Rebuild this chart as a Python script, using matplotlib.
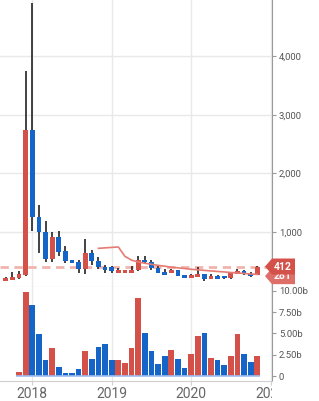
import numpy as np
import pandas as pd
import matplotlib
matplotlib.use("Agg")
import matplotlib.pyplot as plt
from matplotlib.patches import Polygon
from matplotlib.transforms import Bbox, TransformedBbox, IdentityTransform
from matplotlib.ticker import FuncFormatter

plt.rcParams['font.family'] = ['Roboto', 'DejaVu Sans']

# monthly candles, Sep 2017 - Nov 2020
months = pd.date_range('2017-09-01', periods=39, freq='MS')
opens = [170, 188, 217, 267,
         2740, 1255, 1006, 545, 915, 670, 515, 489, 375, 643, 511, 409,
         400, 307, 310, 310, 350, 523, 489, 387, 319, 302, 353, 267,
         222, 239, 284, 205, 250, 245, 210, 290, 336, 290, 273]
highs = [225, 324, 341, 3744,
         4900, 1461, 1188, 1006, 1017, 762, 530, 523, 881, 694, 569, 430,
         415, 387, 360, 415, 591, 591, 523, 421, 370, 365, 360, 275,
         290, 398, 290, 284, 262, 255, 310, 375, 350, 318, 420]
lows = [160, 180, 205, 250,
        1017, 637, 494, 494, 597, 467, 465, 297, 290, 443, 370, 307,
        307, 300, 300, 300, 341, 467, 353, 300, 262, 295, 245, 210,
        210, 230, 160, 199, 199, 199, 199, 285, 270, 240, 265]
closes = [215, 233, 285, 2740,
          1261, 1006, 545, 915, 665, 511, 472, 375, 643, 511, 404, 358,
          341, 347, 347, 347, 518, 484, 382, 307, 273, 353, 256, 216,
          273, 284, 199, 250, 205, 210, 302, 336, 279, 245, 412]
# volume in billions (none shown for Sep/Oct 2017)
volumes = [0, 0, 0.45, 9.9,
           8.35, 4.9, 1.9, 3.3, 1.07, 0.36, 0.36, 0.83, 2.98, 2.0, 3.45, 3.8,
           1.9, 1.9, 1.55, 3.3, 9.2, 5.0, 2.98, 1.43, 2.4, 3.1, 2.0, 0.95,
           2.6, 4.76, 5.0, 2.1, 1.9, 1.3, 2.4, 4.9, 2.6, 1.67, 2.4]
# moving average, Nov 2018 - Nov 2020
ma_values = [722, 730, 738, 745, 585, 520, 490, 468, 450, 432, 418, 400, 390,
             378, 365, 356, 346, 337, 328, 320, 310, 302, 294, 285, 278]
ma_last_label = 281
years = [2018, 2019, 2020, 2021]

RED = '#d4514a'
BLUE = '#1565c8'
GRID = '#e9e9e9'
AXC = '#9a9a9a'
TXT = '#555555'

m = np.array([(d.year - 2018) * 12 + d.month - 1 for d in months])
o = np.array(opens, float)
c = np.array(closes, float)
h = np.array(highs, float)
lo = np.array(lows, float)
v = np.array(volumes, float)
colors = np.array([RED if cc >= oo else BLUE for oo, cc in zip(o, c)])

W, H = 319, 401
fig = plt.figure(figsize=(W / 100, H / 100), dpi=100)
ax = fig.add_axes([0, 114 / H, 272 / W, 287 / H])
axv = fig.add_axes([0, 20 / H, 272 / W, 94 / H])

xlim = (-4.88, 36.22)
year_pos = [(y - 2018) * 12 for y in years]

for a in (ax, axv):
    a.set_xlim(*xlim)
    a.set_xticks(year_pos)
    a.yaxis.tick_right()
    for s in ('left', 'top'):
        a.spines[s].set_visible(False)
    a.spines['right'].set_color(AXC)
    a.spines['bottom'].set_color('#cfcfcf')
    a.tick_params(axis='y', length=3, color=AXC, labelcolor=TXT, labelsize=6.8, pad=2)
    a.tick_params(axis='x', length=3, color='#cfcfcf', labelcolor='#666666', labelsize=10, pad=1)
    a.grid(axis='x', color=GRID, lw=1)
    a.set_axisbelow(True)

# price panel
ax.set_ylim(63, 4955)
ax.set_yticks([1000, 2000, 3000, 4000])
ax.yaxis.set_major_formatter(FuncFormatter(lambda x, p: f'{int(x):,}'))
ax.grid(axis='y', color=GRID, lw=1)
ax.tick_params(axis='x', labelbottom=False, length=0)
ax.vlines(m, lo, h, color='#222222', lw=1.2, zorder=2)
ax.bar(m, np.maximum(np.abs(c - o), 8), bottom=np.minimum(o, c), width=0.72,
       color=colors, zorder=3)
ax.plot(m[-len(ma_values):], ma_values, color='#e57b73', lw=1.2, zorder=4)
ax.axhline(c[-1], color='#f0b4ae', lw=2, ls=(0, (3, 2)), zorder=1)

# volume panel
axv.set_ylim(-0.588, 10.47)
axv.set_yticks([0, 2.5, 5, 7.5, 10])
axv.yaxis.set_major_formatter(FuncFormatter(lambda x, p: '0' if x == 0 else f'{x:.2f}b'))
vm = v > 0
axv.bar(m[vm], v[vm], width=0.86, color=colors[vm], zorder=3)
axv.hlines(0, m[vm][0] - 0.43, m[-1] + 0.43, color='#9dbdf0', lw=1.2, zorder=4)
axv.set_xticklabels([str(y) for y in years])
clip = TransformedBbox(Bbox([[0, -1], [1, 1]]), axv.transAxes)
for lbl in axv.get_xticklabels():
    lbl.set_clip_on(True)
    lbl.set_clip_box(clip)

# value tags on the right axis
def tag(value, text, fc, z):
    x0, y0 = ax.transData.transform((xlim[1], value))
    pts = [(x0 - 7, y0), (x0, y0 + 8), (x0 + 23, y0 + 8), (x0 + 23, y0 - 8), (x0, y0 - 8)]
    fig.add_artist(Polygon(pts, closed=True, fc=fc, ec='none', transform=IdentityTransform(),
                           zorder=z, clip_on=False))
    fig.text((x0 + 11) / W, y0 / H, text, color='white', fontsize=7.5, fontweight='bold',
             ha='center', va='center', zorder=z + 0.1)

tag(ma_values[-1] - 30, str(ma_last_label), '#de6f68', 10)
tag(c[-1], str(int(c[-1])), RED, 11)

fig.savefig('out.png', dpi=100)
